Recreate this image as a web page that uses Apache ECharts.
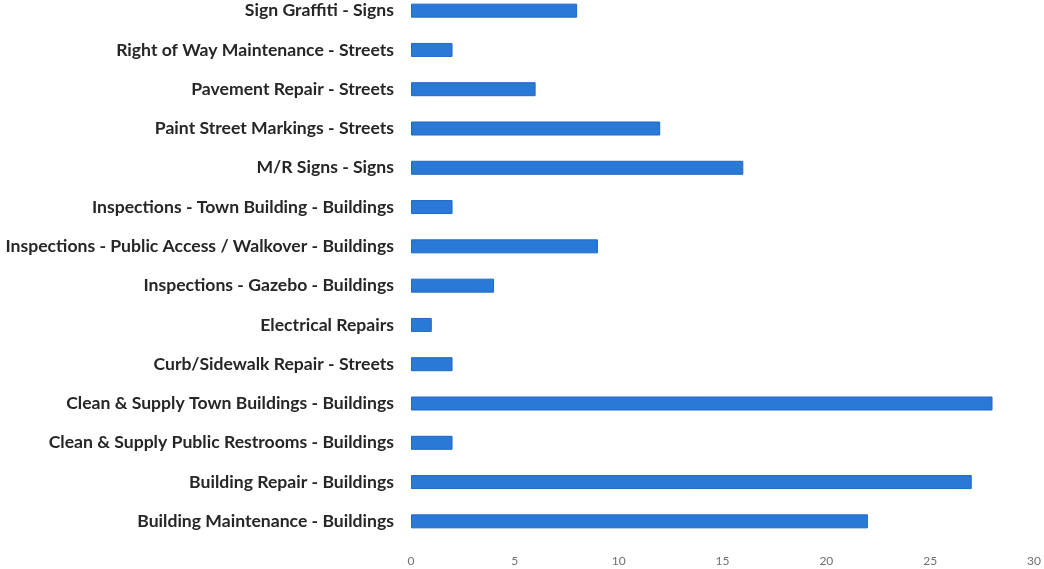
<!DOCTYPE html>
<html>
<head>
<meta charset="utf-8">
<script src="https://cdn.jsdelivr.net/npm/echarts@6/dist/echarts.min.js"></script>
<style>
  html, body { margin: 0; padding: 0; background: #ffffff; overflow: hidden; }
  #chart { width: 1044px; height: 580px; margin-top: -11px; }
</style>
</head>
<body>
<div id="chart"></div>
<script>
// Work order categories, listed bottom to top
const categories = [
  'Building Maintenance - Buildings',
  'Building Repair - Buildings',
  'Clean & Supply Public Restrooms - Buildings',
  'Clean & Supply Town Buildings - Buildings',
  'Curb/Sidewalk Repair - Streets',
  'Electrical Repairs',
  'Inspections - Gazebo - Buildings',
  'Inspections - Public Access / Walkover - Buildings',
  'Inspections - Town Building - Buildings',
  'M/R Signs - Signs',
  'Paint Street Markings - Streets',
  'Pavement Repair - Streets',
  'Right of Way Maintenance - Streets',
  'Sign Graffiti - Signs'
];

// Count of work orders per category
const counts = [22, 27, 2, 28, 2, 1, 4, 9, 2, 16, 12, 6, 2, 8];

// Value axis ticks
const xMin = 0;
const xMax = 30;
const xStep = 5;

const chart = echarts.init(document.getElementById('chart'));
chart.setOption({
  animation: false,
  backgroundColor: '#ffffff',
  grid: { left: 411, right: 7, top: 2, bottom: 28 },
  xAxis: {
    type: 'value',
    min: xMin,
    max: xMax,
    interval: xStep,
    axisLine: { show: false },
    axisTick: { show: false },
    splitLine: { show: false },
    axisLabel: {
      color: '#707070',
      fontSize: 12,
      fontFamily: 'Lato',
      margin: 14
    }
  },
  yAxis: {
    type: 'category',
    data: categories,
    axisLine: { show: false },
    axisTick: { show: false },
    axisLabel: {
      color: '#262626',
      fontSize: 17.6,
      fontWeight: 'bold',
      fontFamily: 'Lato',
      margin: 17
    }
  },
  series: [{
    type: 'bar',
    data: counts,
    barWidth: 14,
    itemStyle: { color: '#2a79d6', borderColor: '#1f68c4', borderWidth: 1 }
  }]
});
</script>
</body>
</html>
